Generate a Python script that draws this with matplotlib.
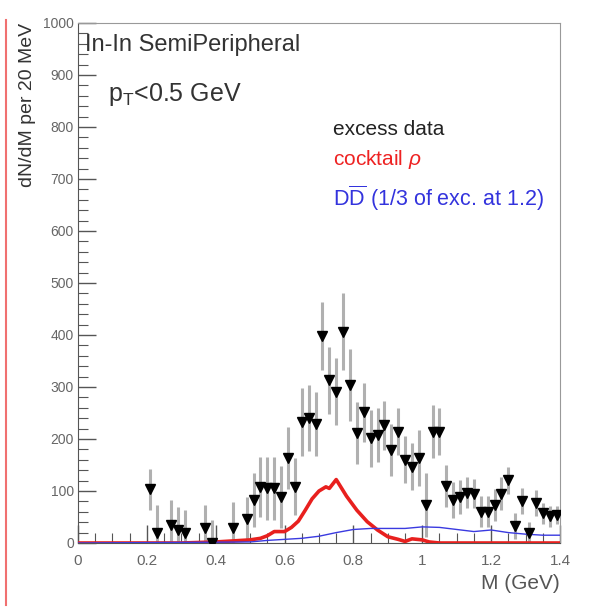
import numpy as np
import matplotlib
matplotlib.use("Agg")
import matplotlib.pyplot as plt
from matplotlib.lines import Line2D
from matplotlib.ticker import MultipleLocator

plt.rcParams['font.family'] = ['Liberation Sans', 'DejaVu Sans']
plt.rcParams['mathtext.fontset'] = 'custom'
plt.rcParams['mathtext.rm'] = 'Liberation Sans'
plt.rcParams['mathtext.it'] = 'Liberation Sans:italic'

# excess data (20 MeV bins)
mass = [0.21, 0.23, 0.27, 0.29, 0.31, 0.37, 0.39, 0.45, 0.49, 0.51,
        0.53, 0.55, 0.57, 0.59, 0.61, 0.63, 0.65, 0.67, 0.69, 0.71,
        0.73, 0.75, 0.77, 0.79, 0.81, 0.83, 0.85, 0.87, 0.89, 0.91,
        0.93, 0.95, 0.97, 0.99, 1.01, 1.03, 1.05, 1.07, 1.09, 1.11,
        1.13, 1.15, 1.17, 1.19, 1.21, 1.23, 1.25, 1.27, 1.29, 1.31,
        1.33, 1.35, 1.37, 1.39]
excess = [103, 19, 35, 25, 19, 29, 0, 29, 46, 83,
          108, 105, 105, 89, 163, 108, 233, 240, 229, 398,
          313, 291, 406, 304, 211, 251, 201, 208, 226, 179,
          214, 160, 147, 163, 73, 214, 214, 110, 83, 89,
          97, 95, 60, 60, 73, 95, 121, 33, 81, 20,
          76, 57, 51, 54]
excess_err = [40, 55, 48, 45, 44, 44, 44, 50, 42, 52,
              58, 60, 60, 60, 60, 55, 65, 64, 62, 66,
              64, 64, 74, 70, 60, 57, 54, 52, 48, 50,
              45, 45, 45, 54, 62, 51, 45, 40, 35, 33,
              30, 28, 30, 30, 30, 32, 26, 25, 25, 20,
              25, 20, 20, 18]

# cocktail rho
rho_m = [0.0, 0.1, 0.2, 0.3, 0.4, 0.45, 0.5, 0.53, 0.55, 0.57,
         0.6, 0.62, 0.64, 0.66, 0.68, 0.7, 0.72, 0.73, 0.75, 0.78,
         0.81, 0.84, 0.87, 0.9, 0.93, 0.95, 0.97, 1.0, 1.02, 1.05,
         1.1, 1.2, 1.3, 1.4]
rho_y = [0, 0, 0, 0, 2, 4, 6, 9, 14, 22,
         22, 30, 42, 63, 85, 100, 108, 105, 122, 90,
         63, 41, 25, 12, 7, 3, 8, 6, 2, 0,
         0, 0, 0, 0]

# open charm (1/3 of excess at 1.2)
dd_m = [0.0, 0.5, 0.55, 0.6, 0.65, 0.7, 0.75, 0.8, 0.85, 0.9,
        0.95, 1.0, 1.05, 1.1, 1.15, 1.2, 1.25, 1.3, 1.35, 1.4]
dd_y = [0, 2, 5, 7, 9, 13, 20, 26, 28, 28,
        28, 31, 30, 26, 22, 25, 20, 17, 15, 15]

fig = plt.figure(figsize=(5.95, 6.10), dpi=100)
ax = fig.add_axes([78/595, 67/610, 482/595, 520/610])

ax.errorbar(mass, excess, yerr=excess_err, fmt='none', ecolor='#b0b0b0',
            elinewidth=2.2, capsize=0, zorder=2)
ax.plot(mass, excess, linestyle='none', marker='v', color='black',
        markersize=7.5, zorder=4)
ax.plot(rho_m, rho_y, color='#e8201e', linewidth=2.6, zorder=3)
ax.plot(dd_m, dd_y, color='#3a3ae0', linewidth=1.0, zorder=3)

ax.set_xlim(0, 1.4)
ax.set_ylim(0, 1000)
ax.xaxis.set_major_locator(MultipleLocator(0.2))
ax.xaxis.set_minor_locator(MultipleLocator(0.05))
ax.yaxis.set_major_locator(MultipleLocator(100))
ax.yaxis.set_minor_locator(MultipleLocator(20))
ax.set_xticks(np.arange(0, 1.41, 0.2))
ax.set_xticklabels(['0', '0.2', '0.4', '0.6', '0.8', '1', '1.2', '1.4'])
ax.tick_params(which='both', direction='in', top=False, right=False,
               colors='#555555', labelcolor='#666666')
ax.tick_params(which='major', length=13, width=1.0)
ax.tick_params(which='minor', length=7, width=0.8)
ax.tick_params(axis='x', labelsize=11, pad=8)
ax.tick_params(axis='y', labelsize=10, pad=3)
for side in ['left', 'bottom']:
    ax.spines[side].set_color('#555555')
for side in ['top', 'right']:
    ax.spines[side].set_color('#999999')

ax.set_xlabel('M (GeV)', loc='right', fontsize=15, color='#555555', labelpad=4)
ax.set_ylabel('dN/dM per 20 MeV', loc='top', fontsize=14, color='#333333',
              labelpad=5)

ax.text(0.014, 0.958, 'In-In SemiPeripheral', transform=ax.transAxes,
        fontsize=17, color='#333333', va='center', ha='left')
ax.text(0.062, 0.862, r'p$_\mathrm{T}$<0.5 GeV', transform=ax.transAxes,
        fontsize=18, color='#333333', va='center', ha='left')
ax.text(0.529, 0.796, 'excess data', transform=ax.transAxes,
        fontsize=15, color='#222222', va='center', ha='left')
ax.text(0.529, 0.738, r'cocktail $\rho$', transform=ax.transAxes,
        fontsize=15, color='#ee2222', va='center', ha='left')
ax.text(0.529, 0.662, r'D$\overline{\mathrm{D}}$ (1/3 of exc. at 1.2)',
        transform=ax.transAxes, fontsize=15.5, color='#3333dd',
        va='center', ha='left')

# red edge line from the scan
fig.add_artist(Line2D([6/595, 6/595], [5/610, 590/610], color='#f07070',
                      linewidth=1.5, transform=fig.transFigure))

fig.savefig('out.png', dpi=100)
